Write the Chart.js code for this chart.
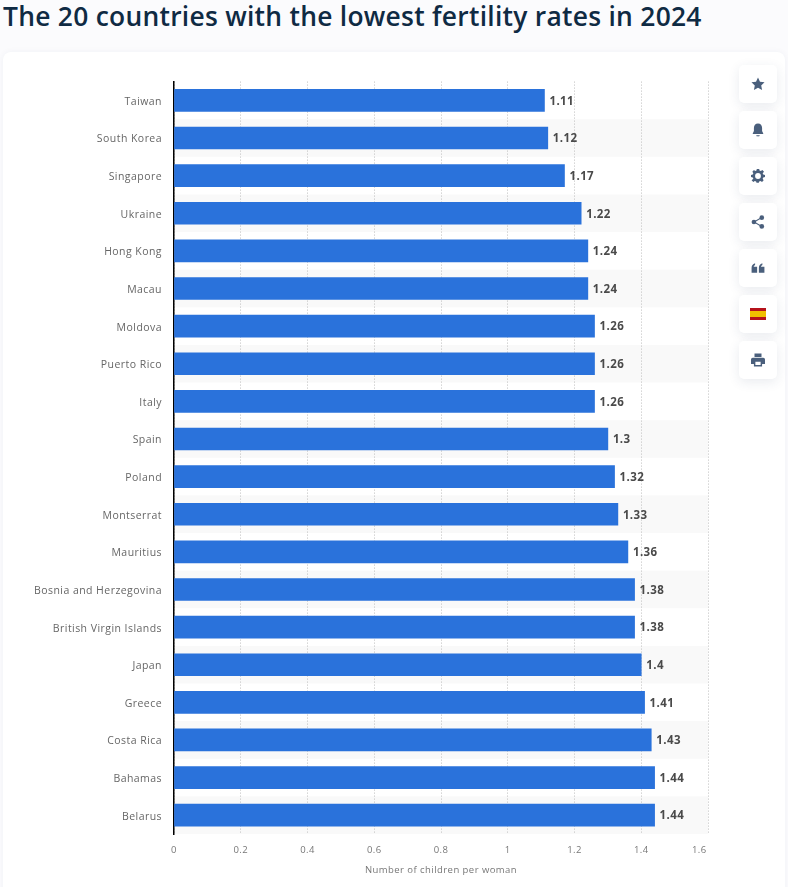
<!DOCTYPE html>
<html>
<head>
<meta charset="utf-8">
<script src="https://cdn.jsdelivr.net/npm/chart.js@4/dist/chart.umd.min.js"></script>
<style>
  html, body { margin: 0; padding: 0; width: 788px; height: 887px; overflow: hidden; background: #fbfbfd; }
  h1 { position: absolute; left: 3px; top: -2px; margin: 0; font: 600 26.4px "Open Sans", sans-serif; line-height: 36px; color: #0f2a43; white-space: nowrap; letter-spacing: .27px; }
  .card { position: absolute; left: 3px; top: 52px; width: 782px; height: 850px; background: #fff; border-radius: 8px; box-shadow: 0 0 6px rgba(30,50,90,.05); }
  canvas { position: absolute; left: 0; top: 0; }
  .btn { position: absolute; left: 739px; width: 38px; height: 38px; background: #fff; border-radius: 5px; box-shadow: 0 3px 12px rgba(40,60,100,.1); display: flex; align-items: center; justify-content: center; }
  .btn svg { width: 14px; height: 14px; fill: #4a5f7c; display: block; }
  .flag { width: 16px; height: 12px; background: linear-gradient(#b5121b 25%, #f1bf00 25%, #f1bf00 75%, #b5121b 75%); }
</style>
</head>
<body>
<h1>The 20 countries with the lowest fertility rates in 2024</h1>
<div class="card"></div>
<canvas id="chart" width="788" height="887" style="width:788px;height:887px"></canvas>

<div class="btn" style="top:65px"><svg viewBox="0 0 24 24"><path d="M12 1l3.400 7.200 7.800 1-5.700 5.400 1.500 7.800L12 18.600l-7 3.800 1.500-7.800L.8 9.200l7.800-1z"/></svg></div>
<div class="btn" style="top:111px"><svg viewBox="0 0 24 24"><path d="M12 1c-4.500 0-7 3.500-7 7.500v5L3 18v1h18v-1l-2-4.500v-5C19 4.500 16.500 1 12 1zM9 21h6c0 1.500-1.300 2-3 2s-3-.5-3-2z"/></svg></div>
<div class="btn" style="top:157px"><svg viewBox="0 0 24 24"><path fill-rule="evenodd" d="M10 1h4l.6 3 2.300 1 2.600-1.700 2.800 2.800L20 8.700l1 2.300 3 .6v3.800l-3 .6-1 2.300 1.700 2.600-2.800 2.800-2.600-1.700-2.300 1-.6 2h-4l-.6-2-2.300-1-2.600 1.700-2.800-2.800L4 18.300 3 16l-3-.6v-3.800l3-.6 1-2.300-1.700-2.600 2.800-2.800L7.100 5l2.300-1zM12 8.500a5 5 0 1 0 0 10 5 5 0 0 0 0-10z" transform="translate(0 -1.500)"/></svg></div>
<div class="btn" style="top:203px"><svg viewBox="0 0 24 24"><circle cx="18.500" cy="4.500" r="4"/><circle cx="18.500" cy="19.500" r="4"/><circle cx="5" cy="12" r="4"/><path d="M5 11l13-7.500 1 1.800L7 12l12 6.700-1 1.800L5 13z"/></svg></div>
<div class="btn" style="top:249px"><svg viewBox="0 0 24 24"><path d="M1 20v-8c0-4 2-7 6-8v3c-1.500.5-2.300 1.500-2.500 3H10.500v10zM13.500 20v-8c0-4 2-7 6-8v3c-1.500.5-2.300 1.500-2.500 3h6v10z"/></svg></div>
<div class="btn" style="top:295px"><div class="flag"></div></div>
<div class="btn" style="top:341px"><svg viewBox="0 0 24 24"><path fill-rule="evenodd" d="M6 1h12v6H6zM3 8h18a3 3 0 0 1 3 3v8h-5v4H5v-4H0v-8a3 3 0 0 1 3-3zM7.500 15v5.500h9V15z"/></svg></div>

<script>
const countries = ['Taiwan', 'South Korea', 'Singapore', 'Ukraine', 'Hong Kong', 'Macau', 'Moldova', 'Puerto Rico', 'Italy', 'Spain', 'Poland', 'Montserrat', 'Mauritius', 'Bosnia and Herzegovina', 'British Virgin Islands', 'Japan', 'Greece', 'Costa Rica', 'Bahamas', 'Belarus'];
const rates = [1.11, 1.12, 1.17, 1.22, 1.24, 1.24, 1.26, 1.26, 1.26, 1.3, 1.32, 1.33, 1.36, 1.38, 1.38, 1.4, 1.41, 1.43, 1.44, 1.44];
const xTicks = [0, 0.2, 0.4, 0.6, 0.8, 1, 1.2, 1.4, 1.6];
const axisTitle = 'Number of children per woman';

// alternating row stripes behind the grid
const stripes = {
  id: 'stripes',
  beforeDraw(chart) {
    const { ctx, chartArea, scales } = chart;
    ctx.letterSpacing = '0.45px';
    const band = scales.y.getPixelForValue(1) - scales.y.getPixelForValue(0);
    ctx.save();
    ctx.fillStyle = '#f9f9f9';
    countries.forEach((c, i) => {
      if (i % 2 === 1) {
        ctx.fillRect(chartArea.left, scales.y.getPixelForValue(i) - band / 2, chartArea.width, band);
      }
    });
    ctx.restore();
  }
};

// value labels at the end of each bar
const barLabels = {
  id: 'barLabels',
  afterDatasetsDraw(chart) {
    const { ctx } = chart;
    ctx.save();
    ctx.font = '700 11.5px "Open Sans"';
    ctx.letterSpacing = '0.4px';
    ctx.fillStyle = '#4a4a4a';
    ctx.textAlign = 'left';
    ctx.textBaseline = 'middle';
    chart.getDatasetMeta(0).data.forEach((bar, i) => {
      ctx.fillText(String(rates[i]), bar.x + 5, bar.y + 1);
    });
    ctx.restore();
  }
};

new Chart(document.getElementById('chart'), {
  type: 'bar',
  data: {
    labels: countries,
    datasets: [{ data: rates, backgroundColor: '#2a72db', barThickness: 22 }]
  },
  options: {
    indexAxis: 'y',
    responsive: false,
    animation: false,
    events: [],
    layout: { padding: { top: 81.6, right: 80, left: 0, bottom: 0 } },
    plugins: { legend: { display: false }, tooltip: { enabled: false } },
    scales: {
      x: {
        min: 0,
        max: 1.6,
        afterFit(scale) { scale.height = 53; },
        afterBuildTicks(scale) { scale.ticks = xTicks.map(v => ({ value: v })); },
        grid: { color: '#bdbdbd', lineWidth: 1, drawTicks: false },
        border: { display: false, dash: [1, 2] },
        ticks: {
          padding: 11,
          color: '#777',
          font: { family: 'Open Sans', size: 9.5 },
          maxRotation: 0,
          // last label sits left of its gridline in the original
          callback: (v) => v === 1.6 ? '1.6      ' : String(v)
        },
        title: {
          display: true,
          text: axisTitle,
          color: '#777',
          font: { family: 'Open Sans', size: 9.5 },
          padding: { top: 0, bottom: 11 }
        }
      },
      y: {
        afterFit(scale) { scale.width = 174; },
        grid: { display: false },
        border: { color: '#000', width: 1.5 },
        ticks: {
          padding: 4,
          color: '#666',
          font: { family: 'Open Sans', size: 10.5, lineHeight: 0.28 },
          autoSkip: false,
          // empty first line nudges the label just under the bar centre
          callback: (v, i) => ['', countries[i]]
        }
      }
    }
  },
  plugins: [stripes, barLabels]
});
</script>
</body>
</html>
